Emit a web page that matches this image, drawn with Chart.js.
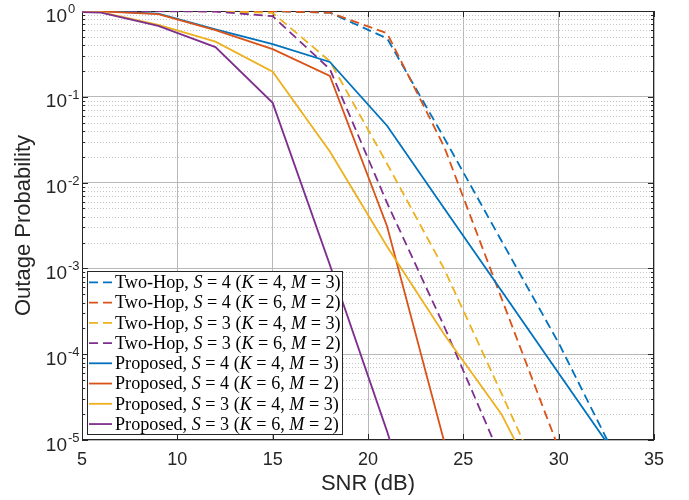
<!DOCTYPE html>
<html>
<head>
<meta charset="utf-8">
<script src="https://cdn.jsdelivr.net/npm/chart.js@4.4.1/dist/chart.umd.min.js"></script>
<style>
  html, body { margin: 0; padding: 0; background: #fff; }
  #wrap { width: 689px; height: 500px; }
</style>
</head>
<body>
<div id="wrap"><canvas id="outageChart" width="689" height="500"></canvas></div>
<script>
// SNR points (dB) used by every curve
const snrDb = [3, 6, 9, 12, 15, 18, 21, 24, 27, 30, 33, 36];

// Two-hop reference schemes
const twoHopS4K4M3 = [1, 1, 1, 1, 0.995, 0.955, 0.48, 0.033, 2.1e-3, 1.35e-4, 6.3e-6, 3e-7];
const twoHopS4K6M2 = [1, 1, 1, 1, 0.995, 0.955, 0.55, 0.026, 4.5e-4, 8e-6, 1.5e-7];
const twoHopS3K4M3 = [1, 1, 1, 0.99, 0.95, 0.26, 0.0166, 9.8e-4, 3.5e-5, 1.2e-6];
const twoHopS3K6M2 = [1, 1, 0.995, 0.985, 0.87, 0.21, 5.8e-3, 2.1e-4, 6e-6, 1.5e-7];

// Proposed schemes
const propS4K4M3 = [1, 0.995, 0.93, 0.61, 0.41, 0.255, 0.046, 5.0e-3, 5.5e-4, 6.0e-5, 6.6e-6, 7e-7];
const propS4K6M2 = [1, 0.99, 0.92, 0.60, 0.36, 0.175, 3.1e-3, 9.5e-6, 3e-8];
const propS3K4M3 = [1, 0.97, 0.69, 0.44, 0.196, 0.023, 1.8e-3, 1.7e-4, 2.0e-5, 1e-6];
const propS3K6M2 = [1, 0.955, 0.67, 0.38, 0.085, 1.1e-3, 1.26e-5, 1e-7];

// Legend entries
const schemes = ['Two-Hop', 'Two-Hop', 'Two-Hop', 'Two-Hop', 'Proposed', 'Proposed', 'Proposed', 'Proposed'];
const sValues = [4, 4, 3, 3, 4, 4, 3, 3];
const kValues = [4, 6, 4, 6, 4, 6, 4, 6];
const mValues = [3, 2, 3, 2, 3, 2, 3, 2];
const seriesColors = ['#0072BD', '#D95319', '#EDB120', '#7E2F8E', '#0072BD', '#D95319', '#EDB120', '#7E2F8E'];
const seriesDashed = [true, true, true, true, false, false, false, false];

// Axis ticks
const xTicks = [5, 10, 15, 20, 25, 30, 35];
const yDecades = [0, -1, -2, -3, -4, -5];

const allSeries = [twoHopS4K4M3, twoHopS4K6M2, twoHopS3K4M3, twoHopS3K6M2,
                   propS4K4M3, propS4K6M2, propS3K4M3, propS3K6M2];

const DASH = [9, 5];
const AXIS_COLOR = '#262626';

const datasets = allSeries.map((vals, i) => ({
    label: `${schemes[i]}, S = ${sValues[i]} (K = ${kValues[i]}, M = ${mValues[i]})`,
    data: vals.map((v, j) => ({ x: snrDb[j], y: v })),
    borderColor: seriesColors[i],
    borderWidth: 1.8,
    borderDash: seriesDashed[i] ? DASH : [],
    pointRadius: 0,
    tension: 0,
    fill: false,
    order: allSeries.length - i   // later series on top
}));

// Legend text with italic symbols
function legendParts(i) {
    return [
        [schemes[i] + ', ', false],
        ['S', true],
        [' = ' + sValues[i] + ' (', false],
        ['K', true],
        [' = ' + kValues[i] + ', ', false],
        ['M', true],
        [' = ' + mValues[i] + ')', false]
    ];
}

function serifFont(size, italic) {
    return (italic ? 'italic ' : '') + size + 'px "Liberation Serif", "Times New Roman", serif';
}

function partsWidth(ctx, parts, size) {
    let w = 0;
    parts.forEach(([t, it]) => { ctx.font = serifFont(size, it); w += ctx.measureText(t).width; });
    return w;
}

const axesPlugin = {
    id: 'matlabAxes',
    beforeDatasetsDraw(chart) {
        const { ctx, chartArea: a, scales: { x, y } } = chart;
        ctx.save();

        // dotted minor grid
        ctx.strokeStyle = '#c6c6c6';
        ctx.lineWidth = 1;
        ctx.setLineDash([1, 2]);
        yDecades.slice(1).forEach(e => {
            for (let m = 2; m <= 9; m++) {
                const py = Math.round(y.getPixelForValue(m * Math.pow(10, e))) + 0.5;
                ctx.beginPath();
                ctx.moveTo(a.left, py);
                ctx.lineTo(a.right, py);
                ctx.stroke();
            }
        });
        ctx.setLineDash([]);

        // box
        ctx.strokeStyle = AXIS_COLOR;
        ctx.lineWidth = 1;
        ctx.strokeRect(a.left + 0.5, a.top + 0.5, a.right - a.left - 1, a.bottom - a.top - 1);

        // inward ticks
        ctx.beginPath();
        xTicks.forEach(v => {
            const px = Math.round(x.getPixelForValue(v)) + 0.5;
            ctx.moveTo(px, a.bottom); ctx.lineTo(px, a.bottom - 6);
            ctx.moveTo(px, a.top); ctx.lineTo(px, a.top + 6);
        });
        yDecades.forEach(e => {
            const py = Math.round(y.getPixelForValue(Math.pow(10, e))) + 0.5;
            ctx.moveTo(a.left, py); ctx.lineTo(a.left + 6, py);
            ctx.moveTo(a.right, py); ctx.lineTo(a.right - 6, py);
            if (e === 0) return;
            for (let m = 2; m <= 9; m++) {
                const pm = Math.round(y.getPixelForValue(m * Math.pow(10, e))) + 0.5;
                ctx.moveTo(a.left, pm); ctx.lineTo(a.left + 3, pm);
                ctx.moveTo(a.right, pm); ctx.lineTo(a.right - 3, pm);
            }
        });
        ctx.stroke();
        ctx.restore();
    },
    afterDatasetsDraw(chart) {
        const { ctx, chartArea: a, scales: { y } } = chart;
        ctx.save();
        ctx.fillStyle = AXIS_COLOR;

        // y tick labels as powers of ten
        yDecades.forEach(e => {
            const py = y.getPixelForValue(Math.pow(10, e));
            ctx.font = '19px "Liberation Sans", Arial, sans-serif';
            ctx.textAlign = 'right';
            ctx.textBaseline = 'alphabetic';
            ctx.fillText('10', 67, py + 10.5);
            ctx.font = '13px "Liberation Sans", Arial, sans-serif';
            ctx.textAlign = 'left';
            ctx.fillText(e === 0 ? '0' : '-' + Math.abs(e), 68, py + 2);
        });

        // axis titles
        ctx.font = '22px "Liberation Sans", Arial, sans-serif';
        ctx.textAlign = 'center';
        ctx.textBaseline = 'alphabetic';
        ctx.fillText('SNR (dB)', (a.left + a.right) / 2, 490);
        ctx.save();
        ctx.translate(30, (a.top + a.bottom) / 2);
        ctx.rotate(-Math.PI / 2);
        ctx.fillText('Outage Probability', 0, 0);
        ctx.restore();

        // legend box
        const box = { left: 87.5, top: 271.5, right: 342.5, bottom: 434.5 };
        ctx.fillStyle = '#ffffff';
        ctx.fillRect(box.left, box.top, box.right - box.left, box.bottom - box.top);
        ctx.strokeStyle = AXIS_COLOR;
        ctx.lineWidth = 1;
        ctx.strokeRect(box.left, box.top, box.right - box.left, box.bottom - box.top);

        const fontSize = 15 * 224 / partsWidth(ctx, legendParts(4), 15);
        datasets.forEach((ds, i) => {
            const cy = 282.3 + i * 20.25;
            ctx.strokeStyle = ds.borderColor;
            ctx.lineWidth = 1.8;
            ctx.setLineDash(ds.borderDash);
            ctx.beginPath();
            ctx.moveTo(89, cy);
            ctx.lineTo(112, cy);
            ctx.stroke();
            ctx.setLineDash([]);

            let tx = 115;
            ctx.fillStyle = '#000000';
            ctx.textAlign = 'left';
            ctx.textBaseline = 'middle';
            legendParts(i).forEach(([t, it]) => {
                ctx.font = serifFont(fontSize, it);
                ctx.fillText(t, tx, cy + 1);
                tx += ctx.measureText(t).width;
            });
        });
        ctx.restore();
    }
};

const ctx = document.getElementById('outageChart').getContext('2d');
new Chart(ctx, {
    type: 'line',
    data: { datasets },
    options: {
        responsive: false,
        animation: false,
        devicePixelRatio: 1,
        layout: { padding: { left: 0, right: 35, top: 11, bottom: 0 } },
        plugins: { legend: { display: false }, tooltip: { enabled: false } },
        scales: {
            x: {
                type: 'linear',
                min: 5,
                max: 35,
                afterBuildTicks: s => { s.ticks = xTicks.map(v => ({ value: v })); },
                afterFit: s => { s.height = 60; },
                grid: { color: '#b8b8b8', lineWidth: 1, drawTicks: false },
                border: { display: false },
                ticks: {
                    padding: 9,
                    maxRotation: 0,
                    color: AXIS_COLOR,
                    font: { family: '"Liberation Sans", Arial, sans-serif', size: 18 }
                }
            },
            y: {
                type: 'logarithmic',
                min: 1e-5,
                max: 1,
                afterBuildTicks: s => { s.ticks = yDecades.map(e => ({ value: Math.pow(10, e) })); },
                afterFit: s => { s.width = 82; },
                grid: { color: '#b8b8b8', lineWidth: 1, drawTicks: false },
                border: { display: false },
                ticks: { display: false }
            }
        }
    },
    plugins: [axesPlugin]
});
</script>
</body>
</html>
